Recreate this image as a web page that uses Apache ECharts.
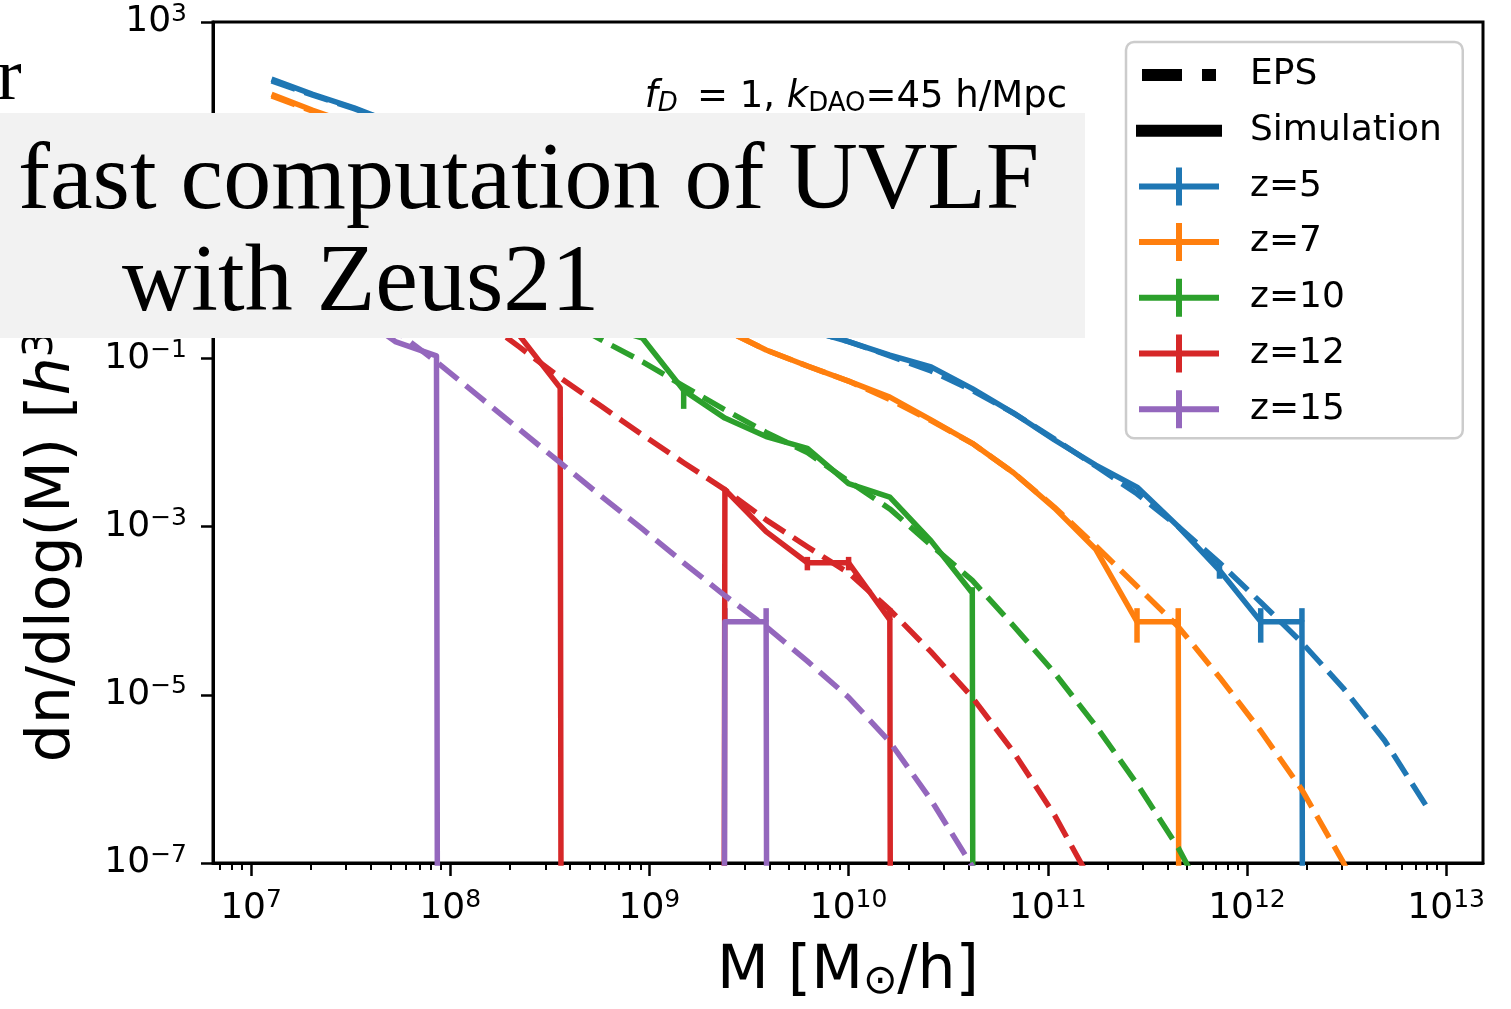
<!DOCTYPE html>
<html>
<head>
<meta charset="utf-8">
<title>HMF z=5..15</title>
<script src="https://cdn.jsdelivr.net/npm/echarts@6/dist/echarts.min.js"></script>
<style>
  html, body { margin: 0; padding: 0; background: #fff; }
  #chart { width: 1511px; height: 1009px; }
</style>
</head>
<body>
<div id="chart"></div>
<script>
// log10 of bin-centre masses [M_sun/h]
const BIN_LOGM = [7.103, 7.310, 7.517, 7.724, 7.931, 8.138, 8.345, 8.552, 8.759, 8.966,
  9.172, 9.379, 9.586, 9.793, 10.000, 10.207, 10.414, 10.621, 10.828, 11.034,
  11.241, 11.448, 11.655, 11.862, 12.069, 12.276, 12.483, 12.690, 12.897];

// empty bin (n = 0) on a log axis
const Z = -300;

// log10 dn/dlogM, simulation (solid)
const simZ5 = [2.32, 2.14, 1.98, 1.79, 1.57, 1.34, 1.07, 0.80, 0.51, 0.23, -0.04, -0.28, -0.50, -0.66, -0.80,
  -0.96, -1.10, -1.36, -1.65, -1.97, -2.27, -2.53, -3.00, -3.52, -4.13, -4.13, Z, Z, Z];
const simZ7 = [2.14, 1.95, 1.78, 1.56, 1.32, 1.05, 0.75, 0.44, 0.15, -0.14, -0.40, -0.66, -0.90, -1.09, -1.27,
  -1.46, -1.73, -2.01, -2.36, -2.78, -3.27, -4.13, -4.13, Z, Z, Z, Z, Z, Z];
const simZ10 = [1.24, 1.00, 0.76, 0.50, 0.24, -0.02, -0.26, -0.45, -0.61, -0.76, -1.38, -1.71, -1.93, -2.07, -2.49,
  -2.65, -3.17, -3.79, Z, Z, Z, Z, Z, Z, Z, Z, Z, Z, Z];
const simZ12 = [0.88, 0.65, 0.41, 0.16, -0.12, -0.40, -0.72, -1.35, Z, Z, Z, -2.56, -3.06, -3.43, -3.43,
  -4.11, Z, Z, Z, Z, Z, Z, Z, Z, Z, Z, Z, Z, Z];
const simZ15 = [0.29, -0.09, -0.45, -0.80, -0.97, Z, Z, Z, Z, Z, Z, -4.13, -4.13, Z, Z,
  Z, Z, Z, Z, Z, Z, Z, Z, Z, Z, Z, Z, Z, Z];

// log10 dn/dlogM, EPS (dashed)
const epsZ5 = [2.30, 2.13, 1.97, 1.79, 1.57, 1.34, 1.07, 0.80, 0.51, 0.23, -0.04, -0.28, -0.50, -0.66, -0.80,
  -0.97, -1.15, -1.38, -1.65, -1.96, -2.28, -2.61, -3.00, -3.43, -3.90, -4.38, -4.92, -5.54, -6.31];
const epsZ7 = [2.12, 1.94, 1.76, 1.56, 1.32, 1.05, 0.75, 0.44, 0.15, -0.14, -0.40, -0.66, -0.90, -1.09, -1.27,
  -1.49, -1.74, -2.01, -2.36, -2.77, -3.23, -3.71, -4.19, -4.79, -5.43, -6.13, -6.99, -7.98, null];
const epsZ10 = [1.30, 1.06, 0.82, 0.57, 0.31, 0.04, -0.23, -0.51, -0.78, -1.04, -1.33, -1.61, -1.88, -2.12, -2.46,
  -2.79, -3.22, -3.64, -4.18, -4.74, -5.37, -6.06, -6.82, -7.74, null, null, null, null, null];
const epsZ12 = [1.06, 0.79, 0.49, 0.18, -0.15, -0.50, -0.86, -1.23, -1.57, -1.91, -2.24, -2.56, -2.92, -3.24, -3.55,
  -3.99, -4.49, -5.03, -5.68, -6.43, -7.32, null, null, null, null, null, null, null, null];
const epsZ15 = [0.45, 0.07, -0.31, -0.67, -1.04, -1.44, -1.84, -2.24, -2.64, -3.03, -3.43, -3.82, -4.19, -4.60, -5.03,
  -5.56, -6.25, -7.04, -7.92, null, null, null, null, null, null, null, null, null, null];

// error bars: [log10 M, log10 low, log10 high]
const errZ5 = [[11.862, -3.62, -3.43], [12.069, -4.38, -3.97], [12.276, -4.13, -3.97]];
const errZ7 = [[11.448, -4.38, -3.97], [11.655, -4.13, -3.97]];
const errZ10 = [[9.172, -1.60, -1.32], [10.621, -3.79, -3.72]];
const errZ12 = [[9.793, -3.52, -3.36], [10.000, -3.52, -3.36], [10.207, -4.11, -3.97]];
const errZ15 = [[9.379, -4.13, -3.97], [9.586, -4.13, -3.97]];

const X_TICKS = [7, 8, 9, 10, 11, 12, 13];
const Y_TICKS = [-7, -5, -3, -1, 1, 3];
const X_MIN = 6.809, X_MAX = 13.185;

const curves = [
  {name: 'z=5', color: '#1f77b4', sim: simZ5, eps: epsZ5, err: errZ5},
  {name: 'z=7', color: '#ff7f0e', sim: simZ7, eps: epsZ7, err: errZ7},
  {name: 'z=10', color: '#2ca02c', sim: simZ10, eps: epsZ10, err: errZ10},
  {name: 'z=12', color: '#d62728', sim: simZ12, eps: epsZ12, err: errZ12},
  {name: 'z=15', color: '#9467bd', sim: simZ15, eps: epsZ15, err: errZ15}
];

// minor ticks 2..9 x 10^d
const minorTicks = [];
for (let d = 6; d <= 13; d++) {
  for (let m = 2; m <= 9; m++) {
    const v = d + Math.log10(m);
    if (v > X_MIN && v < X_MAX) minorTicks.push(v);
  }
}

const FONT = 'DejaVu Sans';
const LW = 5.5;

function pairs(vals) {
  const out = [];
  vals.forEach(function (v, i) { if (v != null) out.push([BIN_LOGM[i], v]); });
  return out;
}

function powLabel(v) {
  const e = Math.round(v);
  return '{b|10}{s|' + (e < 0 ? '\u2212' + (-e) : e) + '}';
}

const powRich = {
  b: {fontFamily: FONT, fontSize: 36, color: '#000'},
  s: {fontFamily: FONT, fontSize: 25, color: '#000', padding: [0, 0, 16, 0]}
};

// legend icons, all in a 109 x 38 box (icon drawn in the first 86 px)
const BOX = 'M0,0M109,38';
const ICON_EPS = 'path://' + BOX + 'M6,13h40v12h-40zM66,13h14v12h-14z';
const ICON_SIM = 'path://' + BOX + 'M0,13h86v12h-86z';
const ICON_BAR = 'path://' + BOX + 'M3,16h80v6h-80zM40,0h6v38h-6z';

let series = [
  {name: 'EPS', type: 'line', data: [], itemStyle: {color: '#000'}, lineStyle: {color: '#000'}},
  {name: 'Simulation', type: 'line', data: [], itemStyle: {color: '#000'}, lineStyle: {color: '#000'}}
];

curves.forEach(function (c) {
  series.push({
    name: c.name, type: 'line', data: pairs(c.sim), symbol: 'none', silent: true, clip: true,
    itemStyle: {color: c.color},
    lineStyle: {color: c.color, width: LW, join: 'round'}
  });
  series.push({
    name: c.name, type: 'line', data: pairs(c.eps), symbol: 'none', silent: true, clip: true,
    itemStyle: {color: c.color},
    lineStyle: {color: c.color, width: LW, type: [25, 10], join: 'round'}
  });
  series.push({
    name: c.name, type: 'custom', data: c.err, silent: true, clip: true,
    encode: {x: 0, y: [1, 2]},
    itemStyle: {color: c.color},
    renderItem: function (params, api) {
      const a = api.coord([api.value(0), api.value(1)]);
      const b = api.coord([api.value(0), api.value(2)]);
      return {
        type: 'line',
        shape: {x1: a[0], y1: a[1], x2: b[0], y2: b[1]},
        style: {stroke: c.color, lineWidth: LW}
      };
    }
  });
});

const chart = echarts.init(document.getElementById('chart'), null, {renderer: 'canvas'});

chart.setOption({
  animation: false,
  backgroundColor: '#fff',
  grid: {left: 213, right: 28, top: 22, bottom: 146, show: true, borderColor: '#000', borderWidth: 3},
  xAxis: [
    {
      type: 'value', min: X_MIN, max: X_MAX,
      axisLine: {show: true, onZero: false, lineStyle: {color: '#000', width: 3}},
      axisTick: {show: true, length: 13, customValues: X_TICKS, lineStyle: {color: '#000', width: 2.5}},
      axisLabel: {customValues: X_TICKS, margin: 25, formatter: powLabel, rich: powRich},
      splitLine: {show: false},
      name: 'M [M{sub|\u2299}/h]', nameLocation: 'middle', nameGap: 79,
      nameTextStyle: {
        fontFamily: FONT, fontSize: 60, color: '#000',
        rich: {sub: {fontFamily: FONT, fontSize: 41, color: '#000', padding: [20, 0, 0, 0]}}
      }
    },
    {
      type: 'value', min: X_MIN, max: X_MAX, position: 'bottom',
      axisLine: {show: false, onZero: false},
      axisTick: {show: true, length: 7, customValues: minorTicks, lineStyle: {color: '#000', width: 2}},
      axisLabel: {show: false},
      splitLine: {show: false}
    }
  ],
  yAxis: {
    type: 'value', min: -7, max: 3,
    axisLine: {show: true, onZero: false, lineStyle: {color: '#000', width: 3}},
    axisTick: {show: true, length: 12, customValues: Y_TICKS, lineStyle: {color: '#000', width: 2.5}},
    axisLabel: {customValues: Y_TICKS, margin: 26, formatter: powLabel, rich: powRich},
    splitLine: {show: false},
    name: 'dn/dlog(M) [{i|h}{s|3}/Mpc{s|3}]', nameLocation: 'middle', nameRotate: 90, nameGap: 127,
    nameTextStyle: {
      fontFamily: FONT, fontSize: 60, color: '#000', padding: [0, 16, 0, 0],
      rich: {
        i: {fontFamily: FONT, fontSize: 60, fontStyle: 'italic', color: '#000'},
        s: {fontFamily: FONT, fontSize: 41, color: '#000', padding: [0, 0, 24, 0]}
      }
    }
  },
  legend: {
    orient: 'vertical', left: 1126, top: 42,
    padding: [14, 21, 10, 10],
    itemWidth: 109, itemHeight: 38, itemGap: 17.7,
    selectedMode: false,
    backgroundColor: 'rgba(255,255,255,0.8)',
    borderColor: '#cccccc', borderWidth: 2.5, borderRadius: 8,
    itemStyle: {borderWidth: 0},
    textStyle: {fontFamily: FONT, fontSize: 36, color: '#000', lineHeight: 38},
    data: [
      {name: 'EPS', icon: ICON_EPS},
      {name: 'Simulation', icon: ICON_SIM},
      {name: 'z=5', icon: ICON_BAR},
      {name: 'z=7', icon: ICON_BAR},
      {name: 'z=10', icon: ICON_BAR},
      {name: 'z=12', icon: ICON_BAR},
      {name: 'z=15', icon: ICON_BAR}
    ]
  },
  graphic: [
    {
      type: 'text', x: 1067, y: 97, z: 101,
      style: {
        text: '{it|f}{sd|D}{n|\u2009 = 1, }{it|k}{su|DAO}{n|=45 h/Mpc}',
        align: 'right', verticalAlign: 'middle',
        rich: {
          it: {fontFamily: FONT, fontSize: 37, fontStyle: 'italic', fill: '#000'},
          n: {fontFamily: FONT, fontSize: 37, fill: '#000'},
          sd: {fontFamily: FONT, fontSize: 26, fontStyle: 'italic', fill: '#000', padding: [14, 0, 0, 0]},
          su: {fontFamily: FONT, fontSize: 26, fill: '#000', padding: [14, 0, 0, 0]}
        }
      }
    },
    {
      type: 'text', x: -3, y: 80, z: 101,
      style: {text: 'r', font: '74px "Liberation Serif"', fill: '#000', align: 'left', verticalAlign: 'middle'}
    },
    {
      type: 'rect', z: 100,
      shape: {x: 0, y: 113, width: 1085, height: 225},
      style: {fill: '#f2f2f2'}
    },
    {
      type: 'text', x: 18, y: 183, z: 101,
      style: {text: 'fast computation of UVLF', font: '96px "Liberation Serif"', fill: '#000', align: 'left', verticalAlign: 'middle'}
    },
    {
      type: 'text', x: 122, y: 285, z: 101,
      style: {text: 'with Zeus21', font: '96px "Liberation Serif"', fill: '#000', align: 'left', verticalAlign: 'middle'}
    }
  ],
  series: series
});
</script>
</body>
</html>
